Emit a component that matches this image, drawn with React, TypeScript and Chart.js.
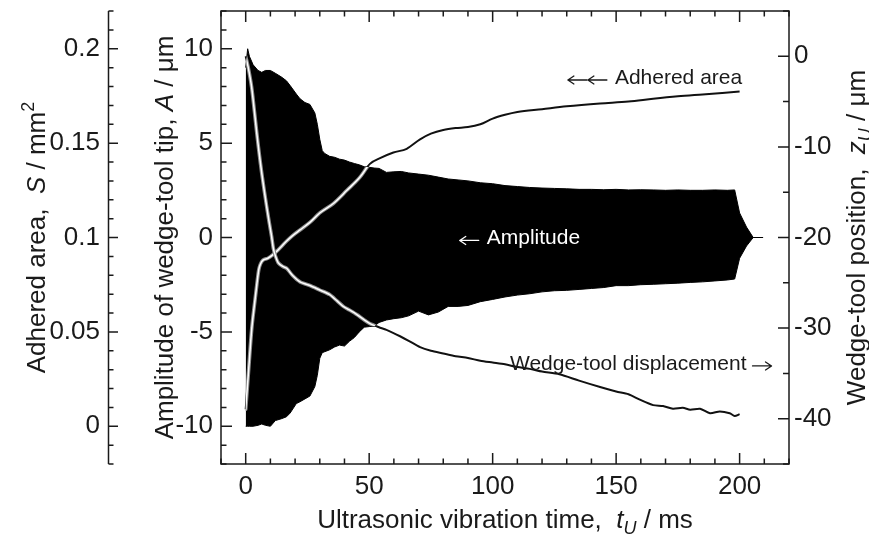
import React, { useEffect, useRef } from 'react';
import { Chart, registerables } from 'chart.js';

Chart.register(...registerables);

const FONT = '"Liberation Sans", Arial, Helvetica, sans-serif';
const INK = '#1a1a1a';

// ---- Amplitude envelope (ms, µm) ----
const T_ENV = [0, 0.8, 1.5, 3, 5, 6.5, 8, 10, 12, 14.5, 16.5, 18, 20.5, 22, 24, 26, 28, 29, 30, 31, 32, 34, 36, 38, 40, 42, 44, 46, 48, 50, 52, 54, 57, 60, 63, 66, 70, 74, 78, 82, 86, 90, 95, 100, 105, 110, 115, 120, 125, 130, 135, 140, 145, 150, 155, 160, 165, 170, 175, 180, 185, 190, 195, 198, 200, 202.8, 205.5, 209.5];
const A_UPPER = [9.0, 10.0, 9.6, 9.15, 8.85, 8.75, 8.85, 8.85, 8.7, 8.5, 8.3, 8.05, 7.6, 7.35, 7.15, 7.05, 6.6, 6.0, 5.2, 4.6, 4.45, 4.3, 4.25, 4.15, 4.1, 4.0, 3.92, 3.85, 3.75, 3.72, 3.68, 3.66, 3.45, 3.48, 3.5, 3.42, 3.36, 3.3, 3.2, 3.1, 3.05, 3.0, 2.9, 2.85, 2.75, 2.7, 2.65, 2.62, 2.6, 2.58, 2.55, 2.55, 2.53, 2.55, 2.52, 2.53, 2.52, 2.5, 2.52, 2.5, 2.5, 2.52, 2.5, 2.52, 1.3, 0.55, 0, 0];
const A_LOWER = [-10.0, -10.0, -10.0, -10.0, -9.95, -9.88, -9.95, -10.0, -9.7, -9.6, -9.5, -9.3, -8.8, -8.7, -8.55, -8.4, -7.9, -7.3, -6.4, -6.1, -6.05, -5.95, -5.8, -5.7, -5.75, -5.5, -5.3, -5.0, -4.75, -4.72, -4.7, -4.5, -4.37, -4.3, -4.25, -4.15, -3.9, -4.1, -3.95, -3.65, -3.65, -3.6, -3.4, -3.28, -3.15, -3.05, -2.98, -2.88, -2.82, -2.8, -2.75, -2.7, -2.65, -2.55, -2.55, -2.5, -2.48, -2.45, -2.42, -2.38, -2.35, -2.3, -2.25, -2.2, -1.1, -0.45, 0, 0];

// ---- Adhered area (ms, mm^2) ----
const T_AREA = [0, 1.2, 2.4, 3.5, 4.5, 5.3, 6, 7, 9, 12, 16.5, 19, 22, 26, 30, 35.5, 41, 46.3, 50.3, 54.4, 59.8, 65.2, 70.6, 75, 80, 85, 90, 95, 100, 105, 110, 120, 130, 143.5, 155, 165, 175, 185, 193, 200];
const S_AREA = [0.009, 0.030, 0.051, 0.064, 0.075, 0.083, 0.086, 0.088, 0.089, 0.092, 0.098, 0.101, 0.104, 0.108, 0.113, 0.118, 0.125, 0.132, 0.139, 0.142, 0.145, 0.147, 0.152, 0.155, 0.157, 0.158, 0.1585, 0.160, 0.163, 0.165, 0.1665, 0.168, 0.1695, 0.171, 0.172, 0.1735, 0.1748, 0.1758, 0.1766, 0.1773];

// ---- Wedge-tool displacement (ms, µm) ----
const T_DISP = [0, 1, 2.4, 3.5, 4.5, 5.5, 6.5, 7.5, 8.5, 9.5, 10.5, 11.2, 12, 13.2, 15, 16.6, 19, 22, 26, 30, 34, 37, 39.5, 42, 45, 48, 50.3, 54, 57, 62.5, 66, 70.6, 75, 80, 85, 90, 95, 100, 105, 110, 115, 120, 127, 135, 143.5, 150, 155, 159.6, 165, 169, 173, 177, 180, 184, 188, 192, 196, 198, 200];
const Z_DISP = [0, -1.2, -3.4, -6.0, -8.5, -10.8, -12.9, -14.8, -16.6, -18.3, -19.9, -21.2, -22.0, -22.8, -23.2, -23.4, -24.2, -24.9, -25.3, -25.8, -26.3, -27.0, -27.6, -28.0, -28.5, -29.1, -29.5, -29.9, -30.2, -30.9, -31.4, -32.1, -32.5, -32.8, -33.1, -33.3, -33.6, -33.8, -34.0, -34.3, -34.5, -34.8, -35.1, -35.8, -36.5, -37.0, -37.3, -37.9, -38.5, -38.6, -38.9, -38.8, -39.0, -38.9, -39.4, -39.2, -39.4, -39.7, -39.5];

// ---- tick labels ----
const X_TICKS = [0, 50, 100, 150, 200];
const A_TICKS = [-10, -5, 0, 5, 10];
const S_TICKS = [0, 0.05, 0.1, 0.15, 0.2];
const Z_TICKS = [-40, -30, -20, -10, 0];

// ---- titles ----
const X_TITLE = [{ t: 'Ultrasonic vibration time,  ' }, { t: 't', it: true }, { t: 'U', it: true, sub: true }, { t: ' / ms' }];
const S_TITLE = [{ t: 'Adhered area,  ' }, { t: 'S', it: true }, { t: ' / mm' }, { t: '2', sup: true }];
const A_TITLE = [{ t: 'Amplitude of wedge-tool tip, ' }, { t: 'A', it: true }, { t: ' / μm' }];
const Z_TITLE = [{ t: 'Wedge-tool position,  ' }, { t: 'z', it: true }, { t: 'U', it: true, sub: true }, { t: ' / μm' }];

// ---- annotations (anchor in data coordinates: ms, µm amplitude) ----
// arrows: number of arrows, side of the text, direction
const NOTE_AREA = { text: 'Adhered area', t: 149.5, a: 8.45, align: 'left', color: INK, arrows: 2, side: 'before', dir: -1 };
const NOTE_AMP = { text: 'Amplitude', t: 97.6, a: -0.05, align: 'left', color: '#ffffff', arrows: 1, side: 'before', dir: -1 };
const NOTE_DISP = { text: 'Wedge-tool displacement', t: 202.8, a: -6.7, align: 'right', color: INK, arrows: 1, side: 'after', dir: 1 };

const toXY = (xs: number[], ys: number[]) => xs.map((x, i) => ({ x, y: ys[i] }));

function drawRich(ctx: any, segs: any[], x: number, y: number, rot: number, size: number) {
  const small = Math.round(size * 0.68);
  const fontOf = (s: any) => `${s.it ? 'italic ' : ''}${s.sub || s.sup ? small : size}px ${FONT}`;
  let total = 0;
  const ws = segs.map((s) => {
    ctx.font = fontOf(s);
    const w = ctx.measureText(s.t).width;
    total += w;
    return w;
  });
  ctx.save();
  ctx.translate(x, y);
  ctx.rotate(rot);
  ctx.textBaseline = 'alphabetic';
  ctx.textAlign = 'left';
  ctx.fillStyle = INK;
  let cx = -total / 2;
  segs.forEach((s, i) => {
    ctx.font = fontOf(s);
    const dy = s.sub ? size * 0.22 : s.sup ? -size * 0.4 : 0;
    ctx.fillText(s.t, cx, dy);
    cx += ws[i];
  });
  ctx.restore();
}

// arrow whose tip is at (tipX, y), dir = -1 points left, +1 points right
function drawArrow(ctx: any, tipX: number, y: number, dir: number, len: number, color: string) {
  ctx.save();
  ctx.strokeStyle = color;
  ctx.lineWidth = 1.3;
  ctx.lineCap = 'round';
  ctx.lineJoin = 'round';
  ctx.beginPath();
  ctx.moveTo(tipX - dir * len, y);
  ctx.lineTo(tipX, y);
  ctx.moveTo(tipX - dir * 6, y - 4);
  ctx.lineTo(tipX, y);
  ctx.lineTo(tipX - dir * 6, y + 4);
  ctx.stroke();
  ctx.restore();
}

const decor = {
  id: 'decor',
  afterDatasetsDraw(chart: any) {
    const ctx = chart.ctx;
    const up = chart.getDatasetMeta(0).data;
    const lo = chart.getDatasetMeta(1).data;
    ctx.save();
    ctx.beginPath();
    up.forEach((p: any, i: number) => (i ? ctx.lineTo(p.x, p.y) : ctx.moveTo(p.x, p.y)));
    for (let i = lo.length - 1; i >= 0; i--) ctx.lineTo(lo[i].x, lo[i].y);
    ctx.closePath();
    ctx.clip();
    [2, 3].forEach((idx) => {
      const meta = chart.getDatasetMeta(idx);
      const pathOf = () => {
        ctx.beginPath();
        if (meta.dataset && typeof meta.dataset.path === 'function') {
          meta.dataset.path(ctx);
        } else {
          meta.data.forEach((p: any, i: number) => (i ? ctx.lineTo(p.x, p.y) : ctx.moveTo(p.x, p.y)));
        }
      };
      ctx.lineJoin = 'round';
      ctx.lineCap = 'round';
      pathOf();
      ctx.strokeStyle = '#8c8c8c';
      ctx.lineWidth = 3.6;
      ctx.stroke();
      pathOf();
      ctx.strokeStyle = '#ffffff';
      ctx.lineWidth = 1.5;
      ctx.stroke();
    });
    ctx.restore();
  },
  afterDraw(chart: any) {
    const ctx = chart.ctx;
    const { left, right, top, bottom } = chart.chartArea;
    const xs = chart.scales.x;
    const ya = chart.scales.yA;
    const ys = chart.scales.yS;
    const yz = chart.scales.yZ;
    ctx.save();
    ctx.strokeStyle = INK;
    ctx.lineWidth = 1.5;
    ctx.lineCap = 'butt';
    ctx.beginPath();
    for (let v = -10; v <= 220; v += 10) {
      const p = xs.getPixelForValue(v);
      const L = v % 50 === 0 ? 11 : 5.5;
      ctx.moveTo(p, bottom);
      ctx.lineTo(p, bottom - L);
      ctx.moveTo(p, top);
      ctx.lineTo(p, top + L);
    }
    for (let v = -12; v <= 12; v++) {
      const p = ya.getPixelForValue(v);
      const L = v % 5 === 0 ? 11 : 5.5;
      ctx.moveTo(left, p);
      ctx.lineTo(left + L, p);
    }
    for (let v = -45; v <= 5; v += 5) {
      const p = yz.getPixelForValue(v);
      const L = v % 10 === 0 ? 11 : 6;
      ctx.moveTo(right, p);
      ctx.lineTo(right - L, p);
    }
    const sx = ys.right;
    for (let k = -2; k <= 22; k++) {
      const p = ys.getPixelForValue(k / 100);
      const L = k % 5 === 0 ? 9.5 : 5;
      ctx.moveTo(sx, p);
      ctx.lineTo(sx + L, p);
    }
    ctx.moveTo(sx, top);
    ctx.lineTo(sx, bottom);
    ctx.stroke();
    ctx.strokeRect(left, top, right - left, bottom - top);

    const mid = (top + bottom) / 2;
    drawRich(ctx, X_TITLE, (left + right) / 2, 528, 0, 26);
    drawRich(ctx, S_TITLE, 44.5, mid, -Math.PI / 2, 26);
    drawRich(ctx, A_TITLE, 173, mid, -Math.PI / 2, 26);
    drawRich(ctx, Z_TITLE, 865, mid, -Math.PI / 2, 26);

    [NOTE_AREA, NOTE_AMP, NOTE_DISP].forEach((n) => {
      ctx.font = `21px ${FONT}`;
      ctx.textBaseline = 'middle';
      ctx.textAlign = n.align;
      ctx.fillStyle = n.color;
      const px = xs.getPixelForValue(n.t);
      const py = ya.getPixelForValue(n.a);
      ctx.fillText(n.text, px, py);
      const w = ctx.measureText(n.text).width;
      const ay = py + 2;
      if (n.side === 'before') {
        let tip = px - 7 - 20;
        for (let i = 0; i < n.arrows; i++) {
          drawArrow(ctx, tip, ay, n.dir, 19, n.color);
          tip -= 20;
        }
        if (n.arrows > 1) {
          // second arrow's tip touches the first arrow's tail
        }
      } else {
        const start = (n.align === 'right' ? px : px + w) + 6;
        drawArrow(ctx, start + 19, ay, n.dir, 19, n.color);
      }
    });
    ctx.restore();
  },
};

const tickFont = { family: FONT, size: 26 };
const fixTicks = (vals: number[]) => (s: any) => {
  s.ticks = vals.map((v) => ({ value: v }));
};
const zeroPad = (s: any) => {
  s.paddingTop = 0;
  s.paddingBottom = 0;
  s.paddingLeft = 0;
  s.paddingRight = 0;
};
const fmt = (v: any) => String(Math.round(Number(v) * 100) / 100);

export default function App() {
  const ref = useRef<HTMLCanvasElement>(null);
  useEffect(() => {
    const canvas = ref.current;
    if (!canvas) return;
    const lineBase = { pointRadius: 0, pointHoverRadius: 0 };
    const chart = new Chart(canvas, {
      type: 'line',
      data: {
        datasets: [
          {
            ...lineBase,
            data: toXY(T_ENV, A_UPPER),
            yAxisID: 'yA',
            borderColor: '#000',
            backgroundColor: '#000',
            borderWidth: 1,
            fill: '+1',
            tension: 0,
            order: 3,
          },
          {
            ...lineBase,
            data: toXY(T_ENV, A_LOWER),
            yAxisID: 'yA',
            borderColor: '#000',
            backgroundColor: '#000',
            borderWidth: 1,
            fill: false,
            tension: 0,
            order: 3,
          },
          {
            ...lineBase,
            data: toXY(T_AREA, S_AREA),
            yAxisID: 'yS',
            borderColor: '#111',
            borderWidth: 2,
            fill: false,
            cubicInterpolationMode: 'monotone',
            order: 1,
          },
          {
            ...lineBase,
            data: toXY(T_DISP, Z_DISP),
            yAxisID: 'yZ',
            borderColor: '#111',
            borderWidth: 2,
            fill: false,
            tension: 0.25,
            order: 1,
          },
        ],
      } as any,
      options: {
        responsive: false,
        devicePixelRatio: 1,
        animation: false,
        events: [],
        layout: { padding: { left: 0, right: 0, top: 11, bottom: 0 } },
        plugins: { legend: { display: false }, tooltip: { enabled: false } },
        scales: {
          x: {
            type: 'linear',
            position: 'bottom',
            min: -10,
            max: 220,
            grid: { display: false, drawTicks: false },
            border: { display: false },
            ticks: { font: tickFont, color: INK, padding: 7, maxRotation: 0, autoSkip: false, callback: fmt },
            afterBuildTicks: fixTicks(X_TICKS),
            afterFit: (s: any) => {
              s.height = 72;
              zeroPad(s);
            },
          },
          yA: {
            type: 'linear',
            position: 'left',
            weight: 0,
            min: -12,
            max: 12,
            grid: { display: false, drawTicks: false },
            border: { display: false },
            ticks: { font: tickFont, color: INK, padding: 8, autoSkip: false, callback: fmt },
            afterBuildTicks: fixTicks(A_TICKS),
            afterFit: (s: any) => {
              s.width = 112.5;
              zeroPad(s);
            },
          },
          yS: {
            type: 'linear',
            position: 'left',
            weight: 1,
            min: -0.02,
            max: 0.22,
            grid: { display: false, drawTicks: false },
            border: { display: false },
            ticks: { font: tickFont, color: INK, padding: 8.5, autoSkip: false, callback: fmt },
            afterBuildTicks: fixTicks(S_TICKS),
            afterFit: (s: any) => {
              s.width = 108.5;
              zeroPad(s);
            },
          },
          yZ: {
            type: 'linear',
            position: 'right',
            min: -45,
            max: 5,
            grid: { display: false, drawTicks: false },
            border: { display: false },
            ticks: { font: tickFont, color: INK, padding: 5, autoSkip: false, callback: fmt },
            afterBuildTicks: fixTicks(Z_TICKS),
            afterFit: (s: any) => {
              s.width = 80;
              zeroPad(s);
            },
          },
        },
      } as any,
      plugins: [decor],
    });
    return () => chart.destroy();
  }, []);
  return (
    <div style={{ position: 'fixed', left: 0, top: 0, width: 869, height: 536, background: '#fff' }}>
      <canvas ref={ref} width={869} height={536} style={{ display: 'block' }} />
    </div>
  );
}
